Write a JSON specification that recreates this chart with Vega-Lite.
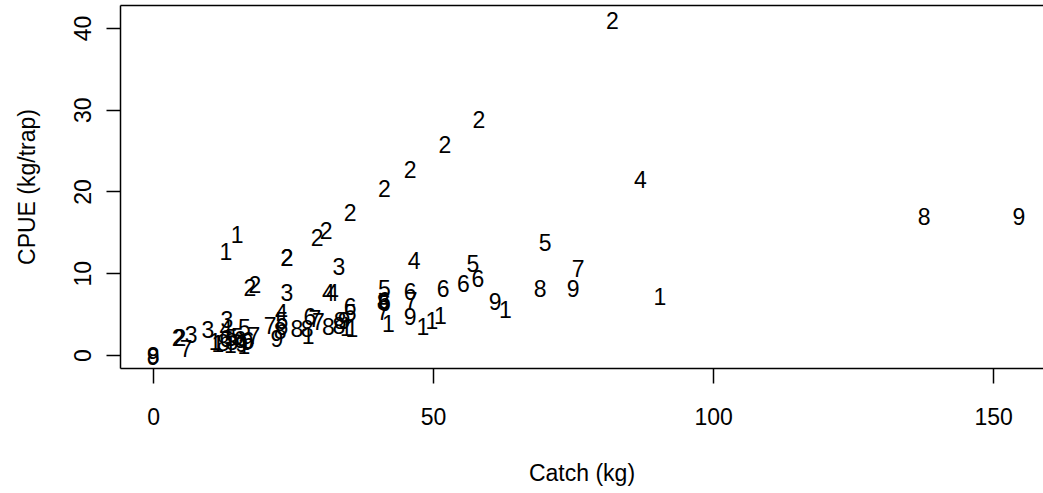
{
  "$schema": "https://vega.github.io/schema/vega-lite/v6.json",
  "width": 923,
  "height": 363,
  "autosize": {"type": "none"},
  "padding": {"left": 120, "top": 5, "right": 0, "bottom": 125},
  "background": "white",
  "config": {"view": {"stroke": null}, "font": "Liberation Sans"},
  "data": {"values": [
    {"site": "2", "catch": 82.0, "cpue": 40.7},
    {"site": "2", "catch": 58.2, "cpue": 28.6},
    {"site": "2", "catch": 52.1, "cpue": 25.6},
    {"site": "2", "catch": 45.9, "cpue": 22.5},
    {"site": "2", "catch": 41.3, "cpue": 20.2},
    {"site": "2", "catch": 35.2, "cpue": 17.2},
    {"site": "2", "catch": 30.9, "cpue": 15.0},
    {"site": "2", "catch": 29.3, "cpue": 14.2},
    {"site": "2", "catch": 23.9, "cpue": 11.7},
    {"site": "2", "catch": 23.9, "cpue": 11.8},
    {"site": "2", "catch": 18.2, "cpue": 8.4},
    {"site": "2", "catch": 17.3, "cpue": 8.1},
    {"site": "2", "catch": 4.5, "cpue": 2.0},
    {"site": "2", "catch": 4.8, "cpue": 1.9},
    {"site": "1", "catch": 15.0, "cpue": 14.6},
    {"site": "1", "catch": 13.0, "cpue": 12.5},
    {"site": "1", "catch": 90.5, "cpue": 7.0},
    {"site": "1", "catch": 62.9, "cpue": 5.4},
    {"site": "1", "catch": 42.0, "cpue": 3.7},
    {"site": "1", "catch": 48.2, "cpue": 3.3},
    {"site": "1", "catch": 49.8, "cpue": 4.0},
    {"site": "1", "catch": 51.3, "cpue": 4.6},
    {"site": "1", "catch": 35.5, "cpue": 3.1},
    {"site": "1", "catch": 34.5, "cpue": 3.2},
    {"site": "1", "catch": 27.7, "cpue": 2.2},
    {"site": "1", "catch": 11.6, "cpue": 1.2},
    {"site": "1", "catch": 13.8, "cpue": 1.1},
    {"site": "1", "catch": 11.1, "cpue": 1.5},
    {"site": "1", "catch": 16.2, "cpue": 1.0},
    {"site": "3", "catch": 33.2, "cpue": 10.6},
    {"site": "3", "catch": 23.9, "cpue": 7.5},
    {"site": "3", "catch": 6.8, "cpue": 2.3},
    {"site": "3", "catch": 9.8, "cpue": 2.9},
    {"site": "3", "catch": 13.2, "cpue": 4.2},
    {"site": "4", "catch": 87.0, "cpue": 21.3},
    {"site": "4", "catch": 46.6, "cpue": 11.4},
    {"site": "4", "catch": 31.3, "cpue": 7.5},
    {"site": "4", "catch": 32.0, "cpue": 7.5},
    {"site": "4", "catch": 22.9, "cpue": 5.0},
    {"site": "4", "catch": 13.0, "cpue": 3.1},
    {"site": "5", "catch": 70.0, "cpue": 13.6},
    {"site": "5", "catch": 57.1, "cpue": 11.0},
    {"site": "5", "catch": 41.3, "cpue": 8.0},
    {"site": "5", "catch": 35.2, "cpue": 5.0},
    {"site": "5", "catch": 23.0, "cpue": 4.0},
    {"site": "5", "catch": 16.3, "cpue": 3.2},
    {"site": "5", "catch": 15.0, "cpue": 2.1},
    {"site": "5", "catch": 14.0, "cpue": 1.9},
    {"site": "6", "catch": 58.0, "cpue": 9.2},
    {"site": "6", "catch": 55.4, "cpue": 8.6},
    {"site": "6", "catch": 51.8, "cpue": 8.0},
    {"site": "6", "catch": 45.9, "cpue": 7.6},
    {"site": "6", "catch": 41.3, "cpue": 6.5},
    {"site": "6", "catch": 41.3, "cpue": 6.2},
    {"site": "6", "catch": 35.2, "cpue": 5.7},
    {"site": "6", "catch": 28.0, "cpue": 4.5},
    {"site": "6", "catch": 23.0, "cpue": 3.3},
    {"site": "6", "catch": 13.0, "cpue": 1.8},
    {"site": "6", "catch": 15.5, "cpue": 1.7},
    {"site": "6", "catch": 17.0, "cpue": 1.6},
    {"site": "7", "catch": 75.9, "cpue": 10.4},
    {"site": "7", "catch": 46.1, "cpue": 6.5},
    {"site": "7", "catch": 41.1, "cpue": 5.1},
    {"site": "7", "catch": 28.9, "cpue": 4.3},
    {"site": "7", "catch": 29.5, "cpue": 3.9},
    {"site": "7", "catch": 20.9, "cpue": 3.4},
    {"site": "7", "catch": 5.9, "cpue": 0.6},
    {"site": "7", "catch": 18.0, "cpue": 2.2},
    {"site": "8", "catch": 137.7, "cpue": 16.8},
    {"site": "8", "catch": 69.1, "cpue": 8.0},
    {"site": "8", "catch": 41.1, "cpue": 6.4},
    {"site": "8", "catch": 33.4, "cpue": 4.0},
    {"site": "8", "catch": 31.3, "cpue": 3.3},
    {"site": "8", "catch": 33.2, "cpue": 3.4},
    {"site": "8", "catch": 27.5, "cpue": 3.1},
    {"site": "8", "catch": 25.7, "cpue": 3.1},
    {"site": "8", "catch": 22.7, "cpue": 2.8},
    {"site": "8", "catch": 0.0, "cpue": -0.2},
    {"site": "8", "catch": 14.1, "cpue": 1.5},
    {"site": "8", "catch": 12.5, "cpue": 1.3},
    {"site": "9", "catch": 154.6, "cpue": 16.8},
    {"site": "9", "catch": 75.0, "cpue": 8.0},
    {"site": "9", "catch": 61.1, "cpue": 6.4},
    {"site": "9", "catch": 45.9, "cpue": 4.5},
    {"site": "9", "catch": 34.1, "cpue": 4.0},
    {"site": "9", "catch": 22.1, "cpue": 1.8},
    {"site": "9", "catch": 0.0, "cpue": -0.4},
    {"site": "9", "catch": 16.8, "cpue": 1.5},
    {"site": "9", "catch": 15.8, "cpue": 1.2}
  ]},
  "layer": [
    {
      "mark": {"type": "text", "fontSize": 23, "font": "Liberation Sans", "color": "black", "align": "center", "baseline": "middle"},
      "encoding": {
        "x": {"field": "catch", "type": "quantitative",
          "scale": {"domain": [-5.9, 158.9], "nice": false, "zero": false},
          "axis": {"values": [0, 50, 100, 150], "title": "Catch (kg)", "grid": false,
            "domainColor": "black", "domainWidth": 1.5, "tickColor": "black", "tickWidth": 1.5, "tickSize": 15,
            "labelFontSize": 23, "labelFont": "Liberation Sans", "labelColor": "black", "labelBaseline": "top", "labelPadding": 23,
            "titleFontSize": 23, "titleFont": "Liberation Sans", "titleFontWeight": "normal", "titleColor": "black", "titlePadding": 33}},
        "y": {"field": "cpue", "type": "quantitative",
          "scale": {"domain": [-1.59, 42.8], "nice": false, "zero": false},
          "axis": {"values": [0, 10, 20, 30, 40], "title": "CPUE (kg/trap)", "grid": false,
            "domainColor": "black", "domainWidth": 1.5, "tickColor": "black", "tickWidth": 1.5, "tickSize": 14,
            "labelAngle": -90, "labelAlign": "center", "labelBaseline": "alphabetic",
            "labelFontSize": 23, "labelFont": "Liberation Sans", "labelColor": "black", "labelPadding": 16,
            "titleFontSize": 23, "titleFont": "Liberation Sans", "titleFontWeight": "normal", "titleColor": "black", "titlePadding": 33}},
        "text": {"field": "site", "type": "nominal"}
      }
    },
    {
      "mark": {"type": "point", "opacity": 0},
      "encoding": {
        "x": {"field": "catch", "type": "quantitative",
          "axis": {"orient": "top", "ticks": false, "labels": false, "title": null, "grid": false, "domainColor": "black", "domainWidth": 1.5}}
      }
    }
  ],
  "resolve": {"axis": {"x": "independent"}}
}
